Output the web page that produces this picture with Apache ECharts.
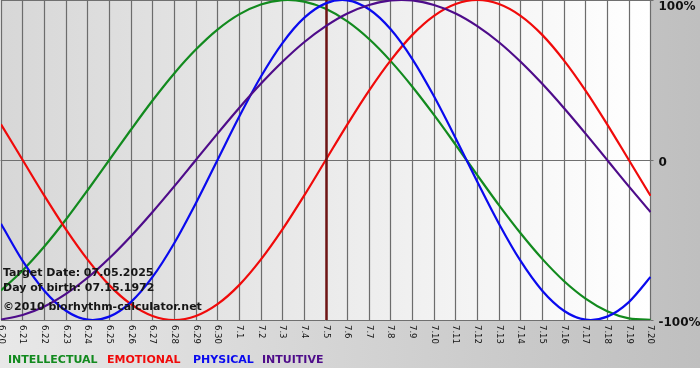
<!DOCTYPE html>
<html>
<head>
<meta charset="utf-8">
<script src="https://cdn.jsdelivr.net/npm/echarts@6/dist/echarts.min.js"></script>
<style>
html,body{margin:0;padding:0;background:#fff;}
#chart{width:700px;height:380px;}
</style>
</head>
<body>
<div id="chart"></div>
<script>
const categories = ['6.20','6.21','6.22','6.23','6.24','6.25','6.26','6.27','6.28','6.29','6.30','7.1','7.2','7.3','7.4','7.5','7.6','7.7','7.8','7.9','7.10','7.11','7.12','7.13','7.14','7.15','7.16','7.17','7.18','7.19','7.20'];
const intellectual = [-81.5,-69.0,-54.1,-37.2,-18.9,0,18.9,37.2,54.1,69.0,81.5,91.0,97.2,99.9,99.0,94.5,86.6,75.6,61.8,45.8,28.2,9.5,-9.5,-28.2,-45.8,-61.8,-75.6,-86.6,-94.5,-99.0,-99.9];
const emotional = [22.3,0,-22.3,-43.4,-62.3,-78.2,-90.1,-97.5,-100,-97.5,-90.1,-78.2,-62.3,-43.4,-22.3,0,22.3,43.4,62.3,78.2,90.1,97.5,100,97.5,90.1,78.2,62.3,43.4,22.3,0,-22.3];
const physical = [-39.8,-63.1,-81.7,-94.2,-99.8,-97.9,-88.8,-73.1,-52.0,-27.0,0,27.0,52.0,73.1,88.8,97.9,99.8,94.2,81.7,63.1,39.8,13.6,-13.6,-39.8,-63.1,-81.7,-94.2,-99.8,-97.9,-88.8,-73.1];
const intuitive = [-99.7,-96.9,-91.6,-83.7,-73.6,-61.4,-47.6,-32.5,-16.5,0,16.5,32.5,47.6,61.4,73.6,83.7,91.6,96.9,99.7,99.7,96.9,91.6,83.7,73.6,61.4,47.6,32.5,16.5,0,-16.5,-32.5];
const yTickLabels = {'-100': '-100%', '0': '0', '100': '100%'};
const targetDate = '7.5';
const legendNames = ['INTELLECTUAL', 'EMOTIONAL', 'PHYSICAL', 'INTUITIVE'];
const infoLines = ['Target Date: 07.05.2025', 'Day of birth: 07.15.1972', '\u00a92010 biorhythm-calculator.net'];

const colors = {
  INTELLECTUAL: '#128a1e',
  EMOTIONAL: '#f00a0a',
  PHYSICAL: '#0a0aee',
  INTUITIVE: '#4e0c8a'
};
const seriesData = {
  INTELLECTUAL: intellectual,
  EMOTIONAL: emotional,
  PHYSICAL: physical,
  INTUITIVE: intuitive
};

// Smooth curve through the data points (Catmull-Rom), positioned with the chart's own coordinate system
function curveRenderer(values, color) {
  return function (params, api) {
    if (params.dataIndex !== 0) return null;
    const pts = values.map((v, i) => api.coord([i, v]));
    let d = 'M' + pts[0][0] + ' ' + pts[0][1];
    for (let i = 0; i < pts.length - 1; i++) {
      const p0 = pts[Math.max(i - 1, 0)], p1 = pts[i], p2 = pts[i + 1], p3 = pts[Math.min(i + 2, pts.length - 1)];
      const c1x = p1[0] + (p2[0] - p0[0]) / 6, c1y = p1[1] + (p2[1] - p0[1]) / 6;
      const c2x = p2[0] - (p3[0] - p1[0]) / 6, c2y = p2[1] - (p3[1] - p1[1]) / 6;
      d += ' C' + c1x + ' ' + c1y + ' ' + c2x + ' ' + c2y + ' ' + p2[0] + ' ' + p2[1];
    }
    return {
      type: 'path',
      shape: {pathData: d},
      style: {stroke: color, lineWidth: 2.2, fill: null, lineJoin: 'round'}
    };
  };
}

const chart = echarts.init(document.getElementById('chart'), null, {renderer: 'canvas'});
const legendX = [8, 107, 193, 262];
const infoY = [273.5, 288.5, 307];

const graphics = [
  {type: 'rect', shape: {x: 0, y: 368, width: 700, height: 12}, style: {fill: '#ffffff'}, silent: true, z: 0}
];
legendNames.forEach((n, i) => {
  graphics.push({type: 'text', left: legendX[i], top: 355, z: 100,
    style: {text: n, fill: colors[n], font: 'bold 11px "DejaVu Sans"'}});
});
infoLines.forEach((t, i) => {
  graphics.push({type: 'text', x: 3, y: infoY[i], z: 100,
    style: {text: t, fill: '#161616', font: 'bold 11px "DejaVu Sans"', verticalAlign: 'middle', textVerticalAlign: 'middle'}});
});

const curveSeries = legendNames.map((n, i) => ({
  name: n,
  type: 'custom',
  data: seriesData[n].map((v, j) => [j, v]),
  encode: {x: 0, y: 1},
  renderItem: curveRenderer(seriesData[n], colors[n]),
  clip: true,
  z: 3 + i,
  silent: true
}));

const markerSeries = {
  name: 'target',
  type: 'line',
  data: emotional,
  symbol: 'none',
  lineStyle: {opacity: 0},
  silent: true,
  z: 2,
  markLine: {
    silent: true,
    symbol: 'none',
    label: {show: false},
    lineStyle: {color: '#6e1414', width: 2.5, type: 'solid'},
    data: [{xAxis: targetDate}]
  }
};

const option = {
  animation: false,
  backgroundColor: new echarts.graphic.LinearGradient(0, 0, 1, 0, [
    {offset: 0, color: '#e8e8e8'},
    {offset: 1, color: '#bfbfbf'}
  ]),
  grid: {
    left: 1, right: 49.5, top: 0, bottom: 60,
    containLabel: false,
    outerBoundsMode: 'none',
    show: true,
    borderWidth: 0,
    backgroundColor: new echarts.graphic.LinearGradient(0, 0, 1, 0, [
      {offset: 0, color: '#d7d7d7'},
      {offset: 1, color: '#ffffff'}
    ])
  },
  xAxis: {
    type: 'category',
    data: categories,
    boundaryGap: false,
    axisLine: {show: true, lineStyle: {color: '#707070', width: 1}},
    axisTick: {show: true, length: 4, interval: 0, lineStyle: {color: '#707070'}},
    axisLabel: {interval: 0, rotate: -90, margin: 5, color: '#111', fontSize: 8.5, fontFamily: 'DejaVu Sans', showMinLabel: true, showMaxLabel: true, hideOverlap: false},
    splitLine: {show: true, interval: 0, lineStyle: {color: '#6c6c6c', width: 1.2}}
  },
  yAxis: {
    type: 'value',
    position: 'right',
    min: -100, max: 100, interval: 100,
    axisLine: {show: false},
    axisTick: {show: true, length: 3, lineStyle: {color: '#707070'}},
    splitLine: {show: true, lineStyle: {color: '#707070', width: 1}},
    axisLabel: {
      margin: 8,
      color: '#111',
      fontFamily: 'DejaVu Sans',
      fontWeight: 'bold',
      fontSize: 12,
      hideOverlap: false,
      formatter: function (v) {
        const s = yTickLabels[String(v)];
        return v === 100 ? '{top|' + s + '}' : '{n|' + s + '}';
      },
      rich: {
        top: {fontFamily: 'DejaVu Sans', fontWeight: 'bold', fontSize: 12, color: '#111', padding: [14, 0, 0, 0]},
        n: {fontFamily: 'DejaVu Sans', fontWeight: 'bold', fontSize: 12, color: '#111', padding: [5, 0, 0, 0]}
      }
    }
  },
  series: [markerSeries].concat(curveSeries),
  graphic: graphics
};
chart.setOption(option);
</script>
</body>
</html>
